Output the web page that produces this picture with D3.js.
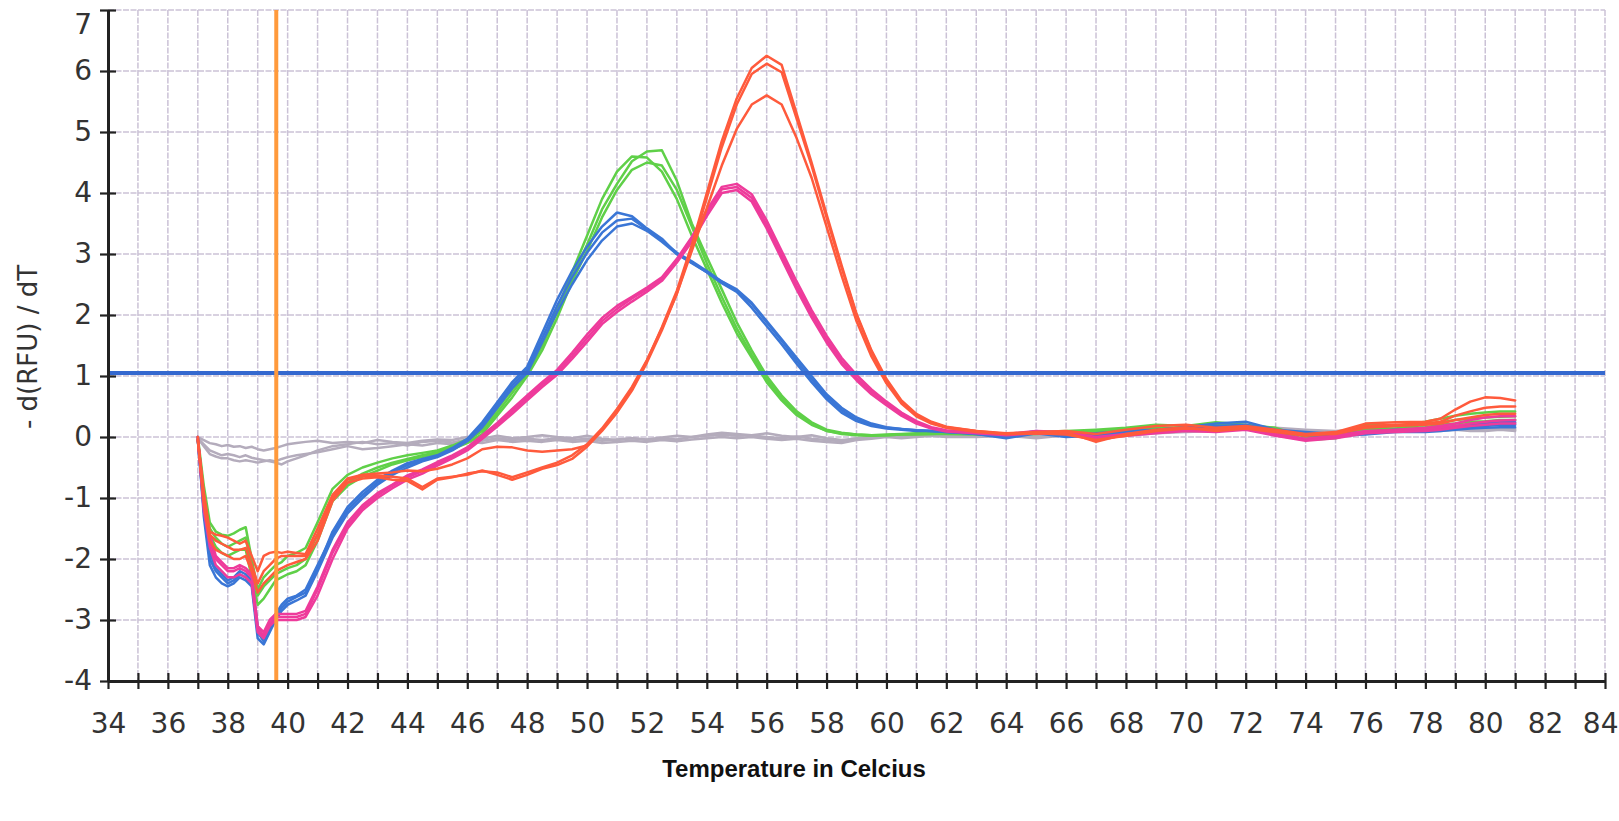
<!DOCTYPE html>
<html><head><meta charset="utf-8">
<script src="https://cdn.jsdelivr.net/npm/d3@7"></script>
<style>html,body{margin:0;padding:0;background:#fff;} svg{display:block;}</style>
</head><body>
<svg id="chart" width="1619" height="821"></svg>
<script>
// ---------- DATA ----------
const temps = [37,37.2,37.4,37.6,37.8,38,38.2,38.4,38.6,38.8,39,39.2,39.4,39.6,39.8,40,40.3,40.6,41,
 41.5,42,42.5,43,43.5,44,44.5,45,45.5,46,46.5,47,47.5,48,48.5,49,49.5,50,50.5,51,51.5,52,
 52.5,53,53.5,54,54.5,55,55.5,56,56.5,57,57.5,58,58.5,59,59.5,60,60.5,61,61.5,62,
 63,64,65,66,67,68,69,70,71,72,73,74,75,76,77,78,78.5,79,79.5,80,80.5,81];

const grey1 = [0,-0.05,-0.1,-0.12,-0.15,-0.13,-0.16,-0.15,-0.18,-0.16,-0.2,-0.22,-0.2,-0.18,-0.15,-0.12,-0.1,-0.08,-0.06,
 -0.1,-0.08,-0.1,-0.05,-0.08,-0.1,-0.06,-0.04,-0.05,0.0,-0.03,0.02,-0.02,0.0,0.03,0.0,-0.02,0.02,-0.03,-0.05,-0.02,-0.04,
 -0.01,0.02,0.0,0.04,0.07,0.05,0.03,0.06,0.02,0.0,0.03,-0.02,-0.05,-0.03,0.0,0.02,0.0,0.03,0.02,0.04,
 0.04,0.05,0.02,0.06,0.08,0.05,0.1,0.12,0.15,0.18,0.15,0.12,0.1,0.14,0.12,0.15,0.14,0.16,0.15,0.14,0.15,0.14];
const grey2 = [-0.02,-0.15,-0.28,-0.32,-0.35,-0.35,-0.38,-0.4,-0.38,-0.4,-0.42,-0.4,-0.38,-0.4,-0.36,-0.33,-0.3,-0.28,-0.25,
 -0.2,-0.15,-0.2,-0.18,-0.15,-0.12,-0.14,-0.1,-0.12,-0.08,-0.1,-0.05,-0.08,-0.06,-0.08,-0.05,-0.08,-0.06,-0.1,-0.08,-0.06,-0.08,
 -0.05,-0.07,-0.04,-0.02,0.0,-0.02,0.0,-0.03,-0.05,-0.03,-0.06,-0.08,-0.1,-0.05,-0.03,0.0,-0.02,0.0,0.02,0.0,
 0.0,0.02,-0.02,0.03,0.04,0.02,0.06,0.08,0.1,0.14,0.12,0.08,0.06,0.1,0.08,0.1,0.1,0.12,0.1,0.1,0.12,0.1];
const grey3 = [-0.02,-0.12,-0.22,-0.26,-0.3,-0.28,-0.3,-0.33,-0.3,-0.34,-0.36,-0.38,-0.4,-0.42,-0.45,-0.4,-0.35,-0.3,-0.22,
 -0.15,-0.12,-0.08,-0.12,-0.1,-0.14,-0.08,-0.06,-0.09,-0.04,-0.06,-0.02,-0.05,-0.03,-0.05,-0.02,-0.05,-0.03,-0.06,-0.04,-0.02,-0.05,
 -0.02,-0.04,0.0,0.02,0.04,0.02,0.03,0.0,-0.02,0.01,-0.03,-0.05,-0.07,-0.02,0.0,0.02,0.0,0.02,0.03,0.02,
 0.02,0.03,0.0,0.04,0.06,0.03,0.08,0.1,0.12,0.16,0.13,0.1,0.08,0.12,0.1,0.12,0.12,0.14,0.12,0.12,0.13,0.12];

const green1 = [0,-0.8,-1.4,-1.55,-1.6,-1.62,-1.58,-1.52,-1.48,-2.0,-2.5,-2.3,-2.2,-2.1,-2.05,-1.95,-1.9,-1.82,-1.4,
 -0.85,-0.62,-0.5,-0.42,-0.35,-0.3,-0.26,-0.22,-0.14,-0.04,0.14,0.46,0.78,1.05,1.5,2.05,2.62,3.15,3.73,4.15,4.52,4.68,
 4.7,4.2,3.5,2.95,2.42,1.88,1.42,1.0,0.68,0.42,0.24,0.12,0.07,0.04,0.03,0.04,0.05,0.06,0.06,0.07,
 0.06,0.05,0.08,0.1,0.12,0.15,0.2,0.18,0.24,0.2,0.15,0.0,0.02,0.2,0.18,0.25,0.3,0.35,0.38,0.4,0.42,0.42];
const green2 = [-0.05,-0.9,-1.5,-1.65,-1.75,-1.8,-1.75,-1.7,-1.65,-2.15,-2.6,-2.45,-2.35,-2.25,-2.2,-2.15,-2.1,-2.0,-1.6,
 -1.0,-0.75,-0.6,-0.5,-0.42,-0.36,-0.3,-0.25,-0.16,-0.06,0.1,0.4,0.72,1.05,1.5,2.1,2.7,3.3,3.9,4.35,4.6,4.58,
 4.35,3.9,3.3,2.75,2.2,1.7,1.3,0.9,0.6,0.36,0.2,0.1,0.06,0.04,0.03,0.03,0.04,0.05,0.05,0.06,
 0.05,0.04,0.06,0.08,0.1,0.12,0.16,0.14,0.2,0.18,0.1,-0.04,0.0,0.15,0.14,0.2,0.24,0.28,0.3,0.32,0.33,0.34];
const green3 = [-0.05,-1.0,-1.6,-1.8,-1.9,-1.95,-1.9,-1.85,-1.85,-2.3,-2.75,-2.65,-2.5,-2.35,-2.3,-2.25,-2.2,-2.1,-1.7,
 -1.05,-0.8,-0.65,-0.55,-0.45,-0.38,-0.33,-0.27,-0.2,-0.1,0.05,0.35,0.65,1.0,1.42,1.95,2.55,3.05,3.6,4.05,4.38,4.5,
 4.45,4.05,3.45,2.85,2.3,1.78,1.35,0.95,0.63,0.38,0.22,0.1,0.05,0.03,0.02,0.03,0.04,0.04,0.05,0.05,
 0.04,0.04,0.05,0.07,0.08,0.1,0.14,0.12,0.16,0.14,0.08,-0.05,-0.02,0.12,0.12,0.16,0.2,0.22,0.25,0.26,0.28,0.28];

const blue1 = [-0.05,-1.2,-2.0,-2.2,-2.3,-2.4,-2.35,-2.25,-2.3,-2.4,-3.2,-3.35,-3.15,-2.95,-2.8,-2.7,-2.62,-2.55,-2.15,
 -1.55,-1.15,-0.9,-0.7,-0.55,-0.43,-0.36,-0.3,-0.18,-0.03,0.24,0.57,0.9,1.15,1.7,2.25,2.72,3.12,3.45,3.68,3.62,3.42,
 3.25,3.0,2.85,2.7,2.52,2.38,2.12,1.82,1.52,1.2,0.9,0.62,0.4,0.26,0.18,0.14,0.12,0.1,0.1,0.08,
 0.06,0.02,0.1,0.04,0.06,0.1,0.12,0.16,0.22,0.25,0.12,0.08,0.05,0.08,0.12,0.12,0.15,0.18,0.2,0.22,0.24,0.24];
const blue2 = [-0.05,-1.1,-1.9,-2.15,-2.25,-2.35,-2.3,-2.2,-2.25,-2.35,-3.1,-3.3,-3.1,-2.9,-2.75,-2.65,-2.6,-2.5,-2.1,
 -1.6,-1.2,-0.95,-0.74,-0.58,-0.46,-0.38,-0.31,-0.2,-0.05,0.2,0.52,0.85,1.1,1.62,2.15,2.62,3.02,3.35,3.55,3.58,3.4,
 3.22,3.02,2.88,2.72,2.55,2.4,2.18,1.88,1.58,1.25,0.95,0.66,0.44,0.28,0.2,0.15,0.13,0.11,0.1,0.08,
 0.05,0.0,0.08,0.02,0.04,0.08,0.1,0.14,0.18,0.2,0.1,0.05,0.03,0.06,0.1,0.1,0.12,0.15,0.16,0.18,0.2,0.2];
const blue3 = [0,-1.3,-2.1,-2.3,-2.4,-2.45,-2.4,-2.3,-2.35,-2.45,-3.3,-3.4,-3.2,-3.0,-2.85,-2.75,-2.68,-2.6,-2.2,
 -1.65,-1.25,-1.0,-0.78,-0.62,-0.5,-0.4,-0.33,-0.22,-0.07,0.16,0.48,0.8,1.05,1.55,2.05,2.5,2.9,3.22,3.45,3.5,3.38,
 3.2,3.0,2.86,2.7,2.55,2.42,2.2,1.9,1.6,1.3,1.0,0.7,0.48,0.32,0.22,0.16,0.13,0.11,0.1,0.09,
 0.05,-0.02,0.06,0.0,0.02,0.06,0.08,0.12,0.15,0.18,0.08,0.03,0.02,0.04,0.08,0.08,0.1,0.12,0.14,0.15,0.16,0.16];

const magenta1 = [0,-1.0,-1.6,-1.95,-2.05,-2.15,-2.15,-2.1,-2.15,-2.25,-3.1,-3.2,-3.0,-2.9,-2.9,-2.9,-2.9,-2.85,-2.45,
 -1.85,-1.4,-1.12,-0.92,-0.78,-0.63,-0.53,-0.41,-0.3,-0.17,0.03,0.23,0.46,0.68,0.9,1.1,1.38,1.68,1.95,2.15,2.3,2.45,
 2.62,2.92,3.28,3.72,4.1,4.15,3.98,3.55,3.05,2.55,2.08,1.66,1.3,1.02,0.78,0.58,0.4,0.26,0.16,0.11,
 0.08,0.05,0.1,0.08,0.0,0.05,0.1,0.14,0.12,0.16,0.05,-0.03,0.02,0.1,0.12,0.15,0.18,0.22,0.28,0.32,0.34,0.34];
const magenta2 = [-0.05,-1.1,-1.7,-2.0,-2.1,-2.2,-2.2,-2.15,-2.2,-2.3,-3.15,-3.25,-3.05,-2.95,-2.95,-2.95,-2.95,-2.9,-2.5,
 -1.9,-1.45,-1.16,-0.96,-0.8,-0.66,-0.56,-0.44,-0.32,-0.2,0.0,0.2,0.42,0.64,0.86,1.06,1.33,1.62,1.9,2.1,2.27,2.42,
 2.6,2.9,3.25,3.68,4.06,4.1,3.92,3.48,2.98,2.48,2.02,1.6,1.25,0.97,0.74,0.55,0.38,0.24,0.15,0.1,
 0.07,0.04,0.08,0.06,-0.02,0.03,0.08,0.12,0.1,0.14,0.03,-0.05,0.0,0.08,0.1,0.12,0.15,0.18,0.22,0.25,0.27,0.28];
const magenta3 = [0,-1.2,-1.8,-2.1,-2.2,-2.3,-2.3,-2.25,-2.3,-2.4,-3.2,-3.3,-3.1,-3.0,-3.0,-3.0,-3.0,-2.95,-2.6,
 -2.0,-1.5,-1.2,-1.0,-0.84,-0.7,-0.6,-0.47,-0.35,-0.22,-0.03,0.17,0.38,0.6,0.82,1.02,1.28,1.56,1.85,2.05,2.22,2.38,
 2.56,2.86,3.2,3.62,4.0,4.05,3.86,3.42,2.92,2.42,1.96,1.55,1.2,0.93,0.7,0.52,0.35,0.22,0.14,0.09,
 0.06,0.03,0.06,0.05,-0.03,0.02,0.06,0.1,0.08,0.12,0.02,-0.06,-0.02,0.06,0.08,0.1,0.12,0.15,0.18,0.2,0.22,0.22];

const red1 = [-0.05,-0.9,-1.55,-1.6,-1.62,-1.65,-1.7,-1.75,-1.7,-1.95,-2.2,-1.95,-1.9,-1.88,-1.9,-1.88,-1.9,-1.92,-1.5,
 -0.95,-0.68,-0.62,-0.6,-0.58,-0.55,-0.56,-0.52,-0.45,-0.35,-0.2,-0.16,-0.17,-0.22,-0.24,-0.22,-0.2,-0.14,0.12,0.42,0.78,1.25,
 1.8,2.4,3.15,4.0,4.85,5.55,6.05,6.25,6.1,5.3,4.5,3.65,2.82,2.02,1.42,0.95,0.6,0.38,0.25,0.17,
 0.1,0.06,0.08,0.1,0.05,0.12,0.18,0.2,0.15,0.18,0.12,0.05,0.08,0.22,0.24,0.25,0.3,0.45,0.58,0.65,0.64,0.6];
const red2 = [-0.05,-1.0,-1.6,-1.7,-1.75,-1.8,-1.85,-1.85,-1.82,-2.1,-2.4,-2.2,-2.1,-2.0,-1.95,-1.95,-1.95,-1.95,-1.6,
 -1.0,-0.7,-0.64,-0.63,-0.65,-0.68,-0.82,-0.68,-0.65,-0.62,-0.55,-0.62,-0.7,-0.62,-0.52,-0.46,-0.36,-0.16,0.1,0.4,0.76,1.22,
 1.75,2.35,3.1,3.92,4.75,5.45,5.95,6.12,5.98,5.22,4.45,3.6,2.78,2.0,1.4,0.92,0.58,0.36,0.24,0.16,
 0.1,0.05,0.06,0.08,-0.08,0.05,0.12,0.16,0.1,0.14,0.08,0.02,0.06,0.18,0.2,0.22,0.25,0.35,0.42,0.48,0.5,0.5];
const red3 = [0,-1.1,-1.7,-1.85,-1.9,-1.95,-2.0,-2.0,-1.95,-2.2,-2.55,-2.4,-2.3,-2.2,-2.15,-2.1,-2.05,-2.0,-1.7,
 -1.05,-0.75,-0.68,-0.66,-0.7,-0.72,-0.86,-0.7,-0.66,-0.6,-0.56,-0.58,-0.66,-0.58,-0.5,-0.42,-0.3,-0.12,0.14,0.46,0.82,1.26,
 1.78,2.35,3.05,3.75,4.45,5.05,5.45,5.6,5.45,4.9,4.25,3.45,2.65,1.9,1.32,0.88,0.55,0.34,0.22,0.15,
 0.08,0.05,0.06,0.04,-0.05,0.02,0.1,0.14,0.12,0.16,0.1,0.04,0.05,0.15,0.18,0.2,0.22,0.28,0.32,0.36,0.38,0.38];

const thresholdValue = 1.05;
const markerTemp = 39.62;
const xTickLabels = [34,36,38,40,42,44,46,48,50,52,54,56,58,60,62,64,66,68,70,72,74,76,78,80,82,84];
const yTickLabels = [-4,-3,-2,-1,0,1,2,3,4,5,6,7];
const xTitle = "Temperature in Celcius";
const yTitle = "- d(RFU) / dT";

// ---------- DRAWING ----------
const svg = d3.select("#chart");
svg.append("rect").attr("width",1619).attr("height",821).attr("fill","#fff");

const x = d3.scaleLinear().domain([34,84]).range([108,1605]);
const y = d3.scaleLinear().domain([-4,7]).range([681,10]);

const gridColor = "#cbc2d6";
const minorX = d3.range(34,85,1);

// grid
const grid = svg.append("g");
grid.selectAll("line.v").data(minorX.filter(d=>d>34)).join("line")
  .attr("x1",d=>x(d)).attr("x2",d=>x(d)).attr("y1",y(7)).attr("y2",y(-4))
  .attr("stroke",gridColor).attr("stroke-width",1.5).attr("stroke-dasharray","6 1.5");
grid.selectAll("line.h").data(yTickLabels.filter(d=>d>-4)).join("line")
  .attr("x1",x(34)).attr("x2",x(84)).attr("y1",d=>y(d)).attr("y2",d=>y(d))
  .attr("stroke",gridColor).attr("stroke-width",1.5).attr("stroke-dasharray","6 1.5");

// curves
const line = d3.line().x((d,i)=>x(temps[i])).y(d=>y(d)).curve(d3.curveLinear);
const series = [
  {v:grey1,c:"#b4acbc"},{v:grey2,c:"#b4acbc"},{v:grey3,c:"#b4acbc"},
  {v:green1,c:"#5fd048"},{v:green2,c:"#5fd048"},{v:green3,c:"#5fd048"},
  {v:blue1,c:"#3a76d6"},{v:blue2,c:"#3a76d6"},{v:blue3,c:"#3a76d6"},
  {v:magenta1,c:"#ee3b9b"},{v:magenta2,c:"#ee3b9b"},{v:magenta3,c:"#ee3b9b"},
  {v:red1,c:"#ff5a3c"},{v:red2,c:"#ff5a3c"},{v:red3,c:"#ff5a3c"}
];
svg.append("g").selectAll("path").data(series).join("path")
  .attr("d",d=>line(d.v.slice(0,temps.length)))
  .attr("fill","none").attr("stroke",d=>d.c).attr("stroke-width",2.5)
  .attr("stroke-linejoin","round").attr("stroke-linecap","round");

// threshold line
svg.append("line").attr("x1",x(34)).attr("x2",x(84))
  .attr("y1",y(thresholdValue)).attr("y2",y(thresholdValue))
  .attr("stroke","#3468cf").attr("stroke-width",4);

// marker line
svg.append("line").attr("x1",x(markerTemp)).attr("x2",x(markerTemp))
  .attr("y1",y(7)).attr("y2",y(-4))
  .attr("stroke","#ff9a3c").attr("stroke-width",4);

// axes
const fontTicks = "'DejaVu Sans', Verdana, sans-serif";
const xAxis = d3.axisBottom(x).tickValues(minorX)
  .tickFormat(d => xTickLabels.includes(d) ? String(d) : "")
  .tickSize(8).tickSizeOuter(0).tickPadding(24);
const gx = svg.append("g").attr("transform",`translate(0,${y(-4)})`).call(xAxis);
gx.select(".domain").attr("stroke","#222").attr("stroke-width",3);
gx.selectAll(".tick line").attr("y1",-8).attr("y2",8).attr("stroke","#222").attr("stroke-width",2.2);
gx.selectAll(".tick text").attr("font-family",fontTicks).attr("font-size",28).attr("fill","#333");
// keep the last label inside the picture, as in the reference
gx.selectAll(".tick text").filter(d => d === 84).attr("text-anchor","end").attr("dx",13);

const yAxis = d3.axisLeft(y).tickValues(yTickLabels).tickFormat(d => String(d))
  .tickSize(8).tickSizeOuter(0).tickPadding(8);
const gy = svg.append("g").attr("transform",`translate(${x(34)},0)`).call(yAxis);
gy.select(".domain").attr("stroke","#222").attr("stroke-width",3);
gy.selectAll(".tick line").attr("x1",-8).attr("x2",8).attr("stroke","#222").attr("stroke-width",2.2);
gy.selectAll(".tick text").attr("font-family",fontTicks).attr("font-size",28).attr("fill","#333");
gy.selectAll(".tick text").filter(d => d === 7).attr("dy","0.85em");

// titles
svg.append("text").attr("x",794).attr("y",777).attr("text-anchor","middle")
  .attr("font-family","'Liberation Sans', Arial, sans-serif").attr("font-weight","bold")
  .attr("font-size",24).attr("fill","#111").text(xTitle);
svg.append("text").attr("transform","translate(28,347) rotate(-90)")
  .attr("text-anchor","middle").attr("dominant-baseline","central")
  .attr("font-family",fontTicks).attr("font-size",26).attr("fill","#333").text(yTitle);
</script>
</body></html>
